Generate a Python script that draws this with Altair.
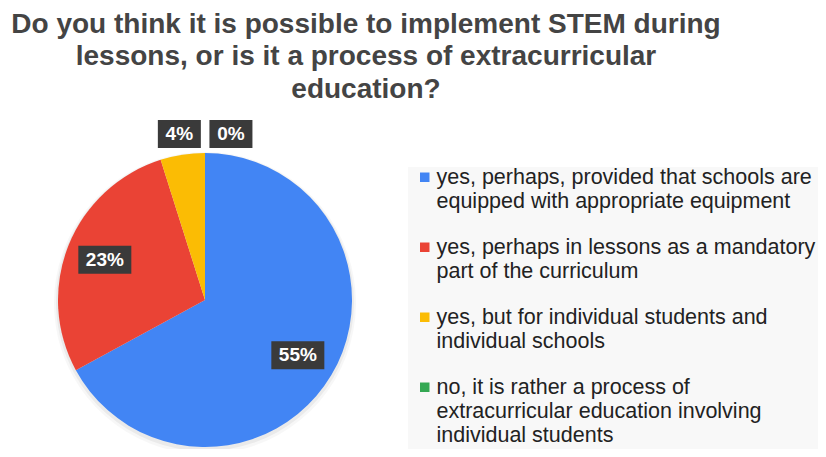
import json
import altair as alt
import pandas as pd

categories = [
    "yes, perhaps, provided that schools are equipped with appropriate equipment",
    "yes, perhaps in lessons as a mandatory part of the curriculum",
    "yes, but for individual students and individual schools",
    "no, it is rather a process of extracurricular education involving individual students",
]
legend_lines = [
    ["yes, perhaps, provided that schools are", "equipped with appropriate equipment"],
    ["yes, perhaps in lessons as a mandatory", "part of the curriculum"],
    ["yes, but for individual students and", "individual schools"],
    ["no, it is rather a process of", "extracurricular education involving", "individual students"],
]
values = [55, 23, 4, 0]
colors = ["#4285F4", "#EA4335", "#FBBC04", "#34A853"]
title_lines = [
    "Do you think it is possible to implement STEM during",
    "lessons, or is it a process of extracurricular",
    "education?",
]

df = pd.DataFrame({"category": categories, "value": values, "order": list(range(len(values)))})

W, H = 394, 294
R = 147

label_expr = ""
for cat, lines in zip(categories, legend_lines):
    label_expr += f"datum.label === {json.dumps(cat)} ? {json.dumps(lines)} : "
label_expr += "datum.label"

base = alt.Chart(df)

shadow1 = base.mark_arc(outerRadius=R + 4, color="#000000", opacity=0.03).encode(
    theta=alt.Theta("value:Q", stack=True), y=alt.value(H / 2 + 3)
)
shadow2 = base.mark_arc(outerRadius=R + 2, color="#000000", opacity=0.05).encode(
    theta=alt.Theta("value:Q", stack=True), y=alt.value(H / 2 + 2)
)

pie = base.mark_arc(outerRadius=R).encode(
    theta=alt.Theta("value:Q", stack=True),
    color=alt.Color(
        "category:N",
        scale=alt.Scale(domain=categories, range=colors),
        legend=alt.Legend(
            title=None,
            orient="none",
            legendX=400,
            legendY=14,
            fillColor="#f8f8f8",
            padding=6,
            labelExpr=label_expr,
            labelFont="Liberation Sans",
            labelFontSize=21.5,
            labelColor="#222222",
            labelLimit=600,
            labelBaseline="alphabetic",
            labelOffset=1,
            symbolType="M-1,-2.37H1V-0.37H-1Z",
            symbolSize=90,
            symbolStrokeWidth=0,
            rowPadding=23,
        ),
    ),
    order=alt.Order("order:Q", sort="ascending"),
)

lab = (
    base.transform_window(cum="sum(value)", sort=[alt.SortField("order")], frame=[None, 0])
    .transform_joinaggregate(total="sum(value)")
    .transform_calculate(
        mid="(datum.cum - datum.value / 2) / datum.total * 2 * PI",
        share="datum.value / datum.total",
        lbl="datum.value + '%'",
    )
    .transform_calculate(
        ang="datum.mid + (datum.value == 0 ? 0.155 : 0)",
        rad="datum.share < 0.1 ? 168 : 108",
        bw="23 + 10 * length(datum.lbl)",
    )
    .transform_calculate(
        px="datum.rad * sin(datum.ang)",
        py="-datum.rad * cos(datum.ang)",
    )
    .transform_calculate(
        x1="datum.px - datum.bw / 2",
        x2="datum.px + datum.bw / 2",
        y1="datum.py - 14",
        y2="datum.py + 14",
    )
)

xs = alt.Scale(domain=[-W / 2, W / 2], nice=False, zero=False)
ys = alt.Scale(domain=[H / 2, -H / 2], nice=False, zero=False)

boxes = lab.mark_rect(color="#3a3a3a").encode(
    x=alt.X("x1:Q", scale=xs, axis=None),
    x2="x2:Q",
    y=alt.Y("y1:Q", scale=ys, axis=None),
    y2="y2:Q",
)
texts = lab.mark_text(color="white", fontWeight="bold", fontSize=19, font="Liberation Sans").encode(
    x=alt.X("px:Q", scale=xs, axis=None),
    y=alt.Y("py:Q", scale=ys, axis=None),
    text="lbl:N",
)

chart = (
    alt.layer(shadow1, shadow2, pie, boxes, texts)
    .properties(
        width=W,
        height=H,
        autosize=alt.AutoSizeParams(type="none"),
        padding={"left": 0, "top": 145, "right": 416, "bottom": 2},
        title=alt.TitleParams(
            text=title_lines,
            font="Liberation Sans",
            fontSize=28,
            fontWeight="bold",
            color="#444444",
            lineHeight=32.5,
            anchor="middle",
            dx=161,
            offset=16,
        ),
    )
    .configure(background="white", style={"guide-label": {"lineHeight": 24}})
    .configure_view(stroke=None)
)

chart.save("out.html", embed_options={"renderer": "svg", "actions": False})
